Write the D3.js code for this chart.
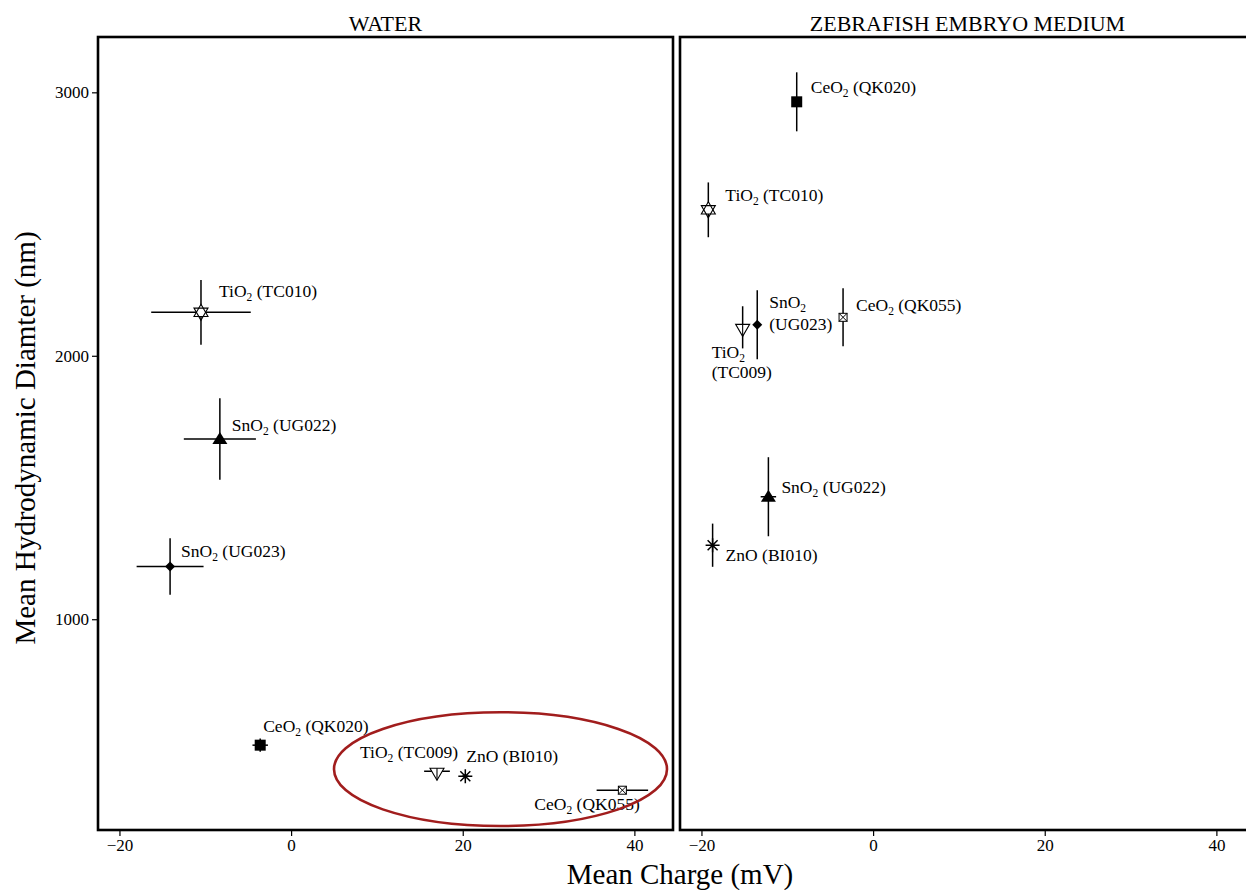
<!DOCTYPE html>
<html><head><meta charset="utf-8">
<script src="https://cdn.jsdelivr.net/npm/d3@7"></script>
<style>
html,body{margin:0;padding:0;background:#fff;}
text{font-family:"Liberation Serif","Times New Roman",serif;fill:#000;}
</style></head>
<body><svg id="chart" width="1246" height="890"></svg>
<script>
// ---------- DATA ----------
const materials = ["TiO2 (TC010)","SnO2 (UG022)","SnO2 (UG023)","CeO2 (QK020)","TiO2 (TC009)","ZnO (BI010)","CeO2 (QK055)"];
const symbols   = ["star6","triUp","diamond","square","triDownPlus","asterisk","squareX"];
const panels = ["WATER","ZEBRAFISH EMBRYO MEDIUM"];
// Water
const waterCharge      = [-10.5, -8.3, -14.1, -3.6, 17.0, 20.3, 38.6];
const waterChargeErr   = [5.8, 4.2, 3.9, 0.9, 1.5, 0.4, 3.0];
const waterDiameter    = [2165, 1684, 1200, 522, 423, 404, 351];
const waterDiameterErr = [123, 155, 107, 25, 8, 8, 12];
// Zebrafish embryo medium
const zebraCharge      = [-19.2, -12.2, -13.5, -8.9, -15.2, -18.7, -3.5];
const zebraChargeErr   = [0, 0.9, 0, 0, 0, 0, 0];
const zebraDiameter    = [2554, 1465, 2118, 2964, 2108, 1281, 2146];
const zebraDiameterErr = [104, 150, 131, 112, 80, 82, 110];
// axes
const xTicks = [-20, 0, 20, 40];
const yTicks = [1000, 2000, 3000];
const xDomain = [-22.5, 44.5];
const yDomain = [200, 3210];
const xLabel = "Mean Charge (mV)";
const yLabel = "Mean Hydrodynamic Diamter (nm)";
// highlight ellipse (data units): cx, cy, rx, ry
const ellipseCenter = [24.4, 431];
const ellipseRadii  = [19.4, 216];

// ---------- LAYOUT (label offsets in px, not data) ----------
const labelLayout = [
  [{dx:18,dy:-15},{dx:12,dy:-8},{dx:11,dy:-10},{dx:3,dy:-13},{dx:-77,dy:-13},{dx:1,dy:-14},{dx:-88,dy:20}],
  [{dx:17,dy:-9},{dx:13,dy:-4},{dx:12,dy:-17,two:true,lh:22},{dx:14,dy:-9},{dx:-31,dy:31,two:true,lh:20},{dx:13,dy:16},{dx:13,dy:-6}]
];
const labelSize = 17.5, subSize = 11.5, tickSize = 17, titleSize = 22, axisTitleSize = 29;

const svg = d3.select("#chart");
const frames = [{x0:98,x1:673},{x0:680,x1:1255}];
const plotTop = 37, plotBottom = 830;
const y = d3.scaleLinear().domain(yDomain).range([plotBottom, plotTop]);

function symbolPath(g, type, cx, cy){
  const s = g.append("g").attr("transform",`translate(${cx},${cy})`);
  if(type==="star6"){
    s.append("path").attr("d","M0,-8L7,4.2L-7,4.2Z").attr("fill","#fff").attr("stroke","#000").attr("stroke-width",1.1);
    s.append("path").attr("d","M0,8L7,-4.2L-7,-4.2Z").attr("fill","none").attr("stroke","#000").attr("stroke-width",1.1);
  } else if(type==="triUp"){
    s.append("path").attr("d","M0,-7L7.5,5L-7.5,5Z").attr("fill","#000");
  } else if(type==="diamond"){
    s.append("path").attr("d","M0,-5L5,0L0,5L-5,0Z").attr("fill","#000");
  } else if(type==="square"){
    s.append("rect").attr("x",-5.5).attr("y",-5.5).attr("width",11).attr("height",11).attr("fill","#000");
  } else if(type==="triDownPlus"){
    s.append("path").attr("d","M-7,-3L7,-3L0,9Z").attr("fill","#fff").attr("stroke","#000").attr("stroke-width",1.1);
    s.append("path").attr("d","M0,-3L0,9").attr("stroke","#000").attr("stroke-width",1.1);
  } else if(type==="asterisk"){
    s.append("path").attr("d","M-7,0L7,0M0,-7L0,7M-5,-5L5,5M-5,5L5,-5").attr("stroke","#000").attr("stroke-width",1.5);
  } else if(type==="squareX"){
    s.append("rect").attr("x",-4).attr("y",-4).attr("width",8).attr("height",8).attr("fill","#fff").attr("stroke","#000").attr("stroke-width",1);
    s.append("path").attr("d","M-4,-4L4,4M-4,4L4,-4").attr("stroke","#000").attr("stroke-width",1);
  }
}

function addLabel(g, name, px, py, lay){
  const m = name.match(/^([A-Za-z]+?)(2?)\s(.*)$/);
  const formula = m[1], sub = m[2], code = m[3];
  const t = g.append("text").attr("x",px+lay.dx).attr("y",py+lay.dy).attr("font-size",labelSize);
  t.append("tspan").text(formula);
  if(sub){ t.append("tspan").attr("font-size",subSize).attr("dy",4).text(sub); }
  if(lay.two){
    g.append("text").attr("x",px+lay.dx).attr("y",py+lay.dy+lay.lh).attr("font-size",labelSize).text(code);
  } else {
    t.append("tspan").attr("dy",sub?-4:0).text(" "+code);
  }
}

const datasets = [
  {cx:waterCharge, cxe:waterChargeErr, cy:waterDiameter, cye:waterDiameterErr},
  {cx:zebraCharge, cxe:zebraChargeErr, cy:zebraDiameter, cye:zebraDiameterErr}
];

frames.forEach((f,pi)=>{
  const x = d3.scaleLinear().domain(xDomain).range([f.x0, f.x1]);
  const g = svg.append("g");
  svg.append("text").attr("x",(f.x0+f.x1)/2).attr("y",31).attr("text-anchor","middle")
     .attr("font-size",titleSize).text(panels[pi]);
  const xa = svg.append("g").attr("transform",`translate(0,${plotBottom})`)
     .call(d3.axisBottom(x).tickValues(xTicks).tickSize(6).tickPadding(3).tickFormat(d=>d<0?"\u2212"+Math.abs(d):d));
  xa.select(".domain").remove();
  xa.selectAll("line").attr("stroke","#000").attr("stroke-width",1.2);
  xa.selectAll("text").attr("font-size",tickSize).attr("font-family","Liberation Serif, serif").attr("fill","#000");
  if(pi===0){
    const ya = svg.append("g").attr("transform",`translate(${f.x0},0)`)
      .call(d3.axisLeft(y).tickValues(yTicks).tickSize(6).tickPadding(3).tickFormat(d3.format("d")));
    ya.select(".domain").remove();
    ya.selectAll("line").attr("stroke","#000").attr("stroke-width",1.2);
    ya.selectAll("text").attr("font-size",tickSize).attr("font-family","Liberation Serif, serif").attr("fill","#000");
  }
  svg.append("rect").attr("x",f.x0).attr("y",plotTop).attr("width",f.x1-f.x0).attr("height",plotBottom-plotTop)
     .attr("fill","none").attr("stroke","#000").attr("stroke-width",2.6);
  const d = datasets[pi];
  materials.forEach((name,i)=>{
    const px = x(d.cx[i]), py = y(d.cy[i]);
    if(d.cxe[i]>0) g.append("line").attr("x1",x(d.cx[i]-d.cxe[i])).attr("x2",x(d.cx[i]+d.cxe[i])).attr("y1",py).attr("y2",py).attr("stroke","#000").attr("stroke-width",1.5);
    if(d.cye[i]>0) g.append("line").attr("y1",y(d.cy[i]-d.cye[i])).attr("y2",y(d.cy[i]+d.cye[i])).attr("x1",px).attr("x2",px).attr("stroke","#000").attr("stroke-width",1.5);
    symbolPath(g, symbols[i], px, py);
    addLabel(g, name, px, py, labelLayout[pi][i]);
  });
  if(pi===0){
    g.append("ellipse").attr("cx",x(ellipseCenter[0])).attr("cy",y(ellipseCenter[1]))
      .attr("rx",x(ellipseCenter[0]+ellipseRadii[0])-x(ellipseCenter[0]))
      .attr("ry",y(ellipseCenter[1])-y(ellipseCenter[1]+ellipseRadii[1]))
      .attr("fill","none").attr("stroke","#a11d1d").attr("stroke-width",2.6);
  }
});

svg.append("text").attr("x",680).attr("y",884).attr("text-anchor","middle").attr("font-size",axisTitleSize).text(xLabel);
svg.append("text").attr("transform","translate(35,438) rotate(-90)").attr("text-anchor","middle").attr("font-size",axisTitleSize).text(yLabel);
</script></body></html>
